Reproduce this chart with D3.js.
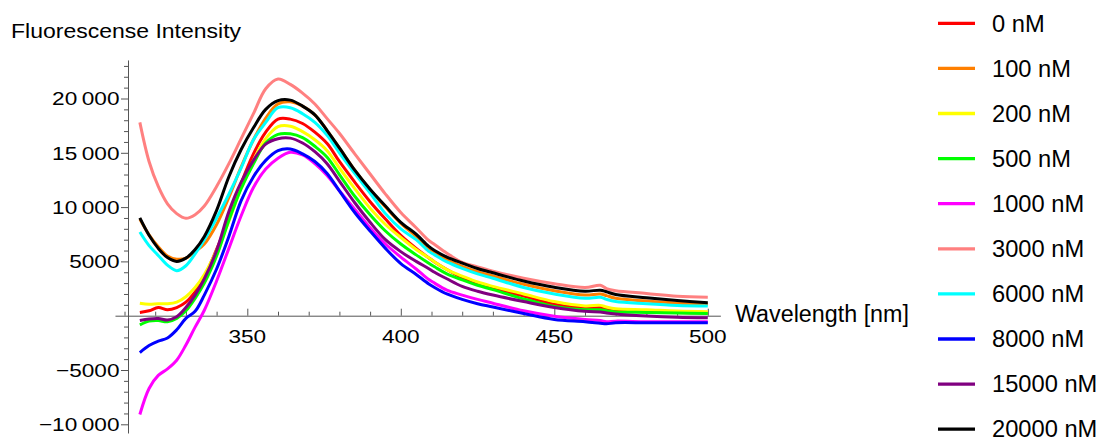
<!DOCTYPE html>
<html>
<head>
<meta charset="utf-8">
<script src="https://cdn.jsdelivr.net/npm/d3@7"></script>
<style>
  body { margin: 0; background: #fff; }
  svg text { font-family: "Liberation Sans", Arial, sans-serif; fill: #000; }
</style>
</head>
<body>
<div id="body"></div>
<script>
// wavelength grid (nm)
const wavelengths = [315, 318, 321, 324, 327, 330, 333, 336, 340, 344, 348, 352, 356, 360, 364, 368, 372, 376, 380, 385,
    390, 395, 400, 405, 409, 411, 415, 420, 425, 430, 440, 450, 460, 465, 467, 470, 480, 490, 500];

// fluorescence per concentration
const conc0 = [300, 450, 750, 550, 750, 1250, 2200, 3600, 6100, 9000, 12200, 14900, 16900, 18100, 18100, 17700, 16900, 15850, 14200, 12300,
    10500, 8900, 7400, 6200, 5350, 4950, 4250, 3500, 2950, 2500, 1800, 1050, 700, 750, 600, 450, 380, 300, 260];
const conc100 = [8900, 7450, 6350, 5500, 5200, 5300, 5900, 6600, 8400, 10900, 13700, 16200, 18200, 19500, 19700, 19300, 18500, 17050, 15450, 13400,
    11600, 10000, 8500, 7300, 6250, 5850, 5150, 4550, 4050, 3650, 2900, 2300, 1900, 2000, 1850, 1600, 1350, 1150, 1050];
const conc200 = [1150, 1050, 1100, 1100, 1250, 1750, 2600, 3800, 6000, 8700, 11800, 14300, 16300, 17400, 17450, 16950, 16200, 15200, 13600, 11700,
    9900, 8400, 7200, 6100, 5350, 4950, 4250, 3650, 3100, 2700, 2000, 1300, 900, 950, 800, 650, 550, 430, 370];
const conc500 = [-850, -500, -450, -550, -250, 450, 1600, 3000, 5500, 8800, 11700, 14000, 15900, 16700, 16750, 16400, 15600, 14600, 13000, 11000,
    9300, 7800, 6600, 5600, 4850, 4500, 3850, 3300, 2800, 2400, 1550, 850, 550, 550, 450, 350, 300, 250, 200];
const conc1000 = [-9100, -6700, -5500, -4900, -4100, -2700, -1050, 500, 3200, 6200, 9200, 11800, 13500, 14500, 15050, 14800, 14000, 12900, 11500, 9800,
    8100, 6600, 5400, 4300, 3350, 3000, 2350, 1900, 1500, 1150, 450, -50, -350, -450, -550, -500, -550, -550, -550];
const conc3000 = [17800, 14200, 11900, 10300, 9400, 8970, 9300, 10100, 11900, 14000, 16300, 18600, 20900, 21800, 21300, 20500, 19500, 18150, 16800, 14900,
    13050, 11200, 9500, 8100, 6950, 6550, 5750, 4900, 4500, 4100, 3450, 2950, 2600, 2800, 2500, 2300, 2050, 1800, 1700];
const conc6000 = [7700, 6450, 5550, 4650, 4150, 4600, 5700, 7000, 9000, 11200, 13600, 16200, 17800, 19150, 19150, 18600, 17800, 16600, 15000, 13100,
    11300, 9400, 8000, 7000, 5950, 5600, 4950, 4350, 3850, 3450, 2600, 2000, 1600, 1700, 1500, 1300, 1100, 950, 900];
const conc8000 = [-3400, -2750, -2350, -2050, -1300, -250, 400, 1900, 4300, 7300, 10600, 12800, 14300, 15200, 15350, 14900, 14200, 13100, 11500, 9500,
    7800, 6200, 4800, 3800, 2950, 2600, 2000, 1500, 1100, 800, 200, -350, -550, -700, -750, -650, -650, -650, -650];
const conc15000 = [-450, -300, -250, -400, -100, 750, 1900, 3400, 6000, 9600, 12300, 14300, 15800, 16300, 16350, 15900, 15100, 14000, 12400, 10400,
    8600, 7000, 5900, 5000, 4350, 4000, 3400, 2700, 2250, 1900, 1300, 750, 400, 350, 250, 150, -30, -150, -200];
const conc20000 = [9000, 7400, 6200, 5350, 5000, 5300, 6100, 7300, 9700, 12800, 15300, 17300, 19000, 19800, 19850, 19300, 18500, 17050, 15450, 13400,
    11650, 10100, 8600, 7500, 6400, 6000, 5400, 4850, 4350, 3950, 3200, 2620, 2250, 2350, 2200, 1950, 1650, 1400, 1200];

const seriesNames = ['0 nM', '100 nM', '200 nM', '500 nM', '1000 nM', '3000 nM', '6000 nM', '8000 nM', '15000 nM', '20000 nM'];
const seriesValues = [conc0, conc100, conc200, conc500, conc1000, conc3000, conc6000, conc8000, conc15000, conc20000];
const seriesColors = ['#ff0000', '#ff7f00', '#ffff00', '#00ff00', '#ff00ff', '#ff8080', '#00ffff', '#0000ff', '#800080', '#000000'];

const yTickValues = [-10000, -5000, 5000, 10000, 15000, 20000];
const yTickLabels = ['\u221210\u2009000', '\u22125000', '5000', '10\u2009000', '15\u2009000', '20\u2009000'];
const xTickValues = [350, 400, 450, 500];
const xTickLabels = ['350', '400', '450', '500'];

function chart() {
    chart.setup();
    chart.axes();
    chart.lines();
    chart.legend();
}

chart.setup = function () {
    chart.svg = d3.select('#body').append('svg')
        .attr('width', 1107)
        .attr('height', 441);
    chart.x = d3.scaleLinear().domain([350, 500]).range([247.3, 707.8]);
    chart.y = d3.scaleLinear().domain([-10000, 20000]).range([424.3, 98.5]);
};

// text that is a bit wider than the font, like the original render
chart.label = function (g, x, y, str, size, sx, anchor) {
    return g.append('text')
        .attr('transform', `translate(${x},${y}) scale(${sx},1)`)
        .attr('text-anchor', anchor || 'start')
        .style('font-size', size + 'px')
        .text(str);
};

chart.axes = function () {
    let {svg, x, y} = chart;
    let axisColor = '#555';

    // y axis, spans a bit past the data
    let yAxisScale = y.copy().domain([-10800, 23550]).range([y(-10800), y(23550)]);
    let yMinor = d3.range(-10000, 23001, 1000).filter(v => v % 5000 !== 0);
    let yAxis = svg.append('g').attr('transform', 'translate(128,0)');
    yAxis.call(d3.axisLeft(yAxisScale).tickValues(yMinor).tickSize(4).tickSizeOuter(0).tickFormat(''));
    yAxis.append('g').call(d3.axisLeft(yAxisScale).tickValues(yTickValues).tickSize(7).tickFormat(''))
        .select('.domain').remove();
    yAxis.selectAll('path, line').attr('stroke', axisColor);

    // x axis with ticks pointing up
    let xAxisScale = x.copy().domain([306.9, 504.1]).range([x(306.9), x(504.1)]);
    let xMinor = d3.range(310, 501, 10).filter(v => v % 50 !== 0);
    let xAxis = svg.append('g').attr('transform', `translate(0,${y(0)})`);
    xAxis.call(d3.axisBottom(xAxisScale).tickValues(xMinor).tickSize(-4).tickSizeOuter(0).tickFormat(''));
    xAxis.append('g').call(d3.axisBottom(xAxisScale).tickValues(xTickValues).tickSize(-7).tickFormat(''))
        .select('.domain').remove();
    xAxis.selectAll('path, line').attr('stroke', axisColor);

    let labels = svg.append('g');
    yTickValues.forEach(function (v, i) {
        chart.label(labels, 119.5, y(v) + 6.8, yTickLabels[i], 19, 1.19, 'end');
    });
    xTickValues.forEach(function (v, i) {
        chart.label(labels, x(v), 342.7, xTickLabels[i], 19, 1.19, 'middle');
    });

    chart.label(labels, 11, 37.5, 'Fluorescense Intensity', 20, 1.15);
    chart.label(labels, 735, 322.3, 'Wavelength [nm]', 23.3, 1.0);
};

chart.lines = function () {
    let {svg, x, y} = chart;
    let line = d3.line()
        .x(d => x(d[0]))
        .y(d => y(d[1]))
        .curve(d3.curveCatmullRom.alpha(0.5));

    let plot = svg.append('g');
    seriesValues.forEach(function (vals, i) {
        plot.append('path')
            .datum(wavelengths.map((w, j) => [w, vals[j]]))
            .attr('d', line)
            .attr('fill', 'none')
            .attr('stroke', seriesColors[i])
            .attr('stroke-width', 3)
            .attr('stroke-linejoin', 'round');
    });
};

chart.legend = function () {
    let legend = chart.svg.append('g');
    seriesNames.forEach(function (name, i) {
        let ly = 23.3 + i * 45.1;
        legend.append('line')
            .attr('x1', 938).attr('x2', 975)
            .attr('y1', ly).attr('y2', ly)
            .attr('stroke', seriesColors[i])
            .attr('stroke-width', 3.3);
        chart.label(legend, 992, ly + 8.2, name, 23, 1.03);
    });
};

chart();
</script>
</body>
</html>
